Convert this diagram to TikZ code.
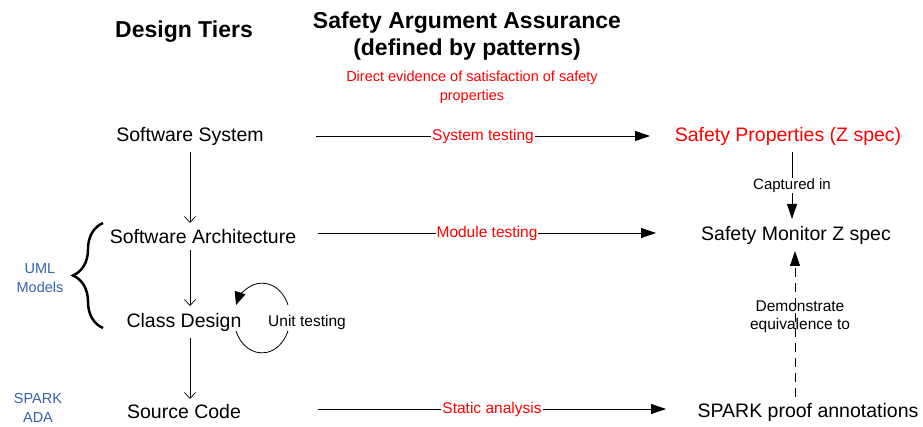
\documentclass[tikz,border=0pt]{standalone}
\usepackage{fontspec}
\setmainfont{Liberation Sans}
\usetikzlibrary{arrows.meta, decorations.pathreplacing}

\definecolor{umlblue}{RGB}{52,98,176}

\tikzset{
  tier/.style={font=\fontsize{19.5}{22}\selectfont},
  head/.style={font=\fontsize{23}{27}\selectfont\bfseries, align=center},
  side/.style={text=umlblue, font=\fontsize{14.5}{19}\selectfont, align=center},
  evid/.style={text=red, fill=white, inner sep=1pt, font=\fontsize{15.5}{18}\selectfont},
  note/.style={font=\fontsize{15}{18}\selectfont, align=center},
  down/.style={-{Straight Barb[length=6pt,width=11pt]}, line width=0.7pt},
  across/.style={-{Triangle[length=15pt,width=10pt]}, line width=0.8pt},
}

\begin{document}
\begin{tikzpicture}[x=1pt, y=1pt]
      \useasboundingbox (0,0) rectangle (923,-427);

      % column headings
      \node [head] (tiers) at (184, -32) {Design Tiers};
      \node [head] (assur) at (467, -36) {Safety Argument Assurance\\(defined by patterns)};
      \node [note, text=red, font=\fontsize{14.5}{19}\selectfont] (direct) at (472, -87)
            {Direct evidence of satisfaction of safety\\properties};

      % design tiers
      \node [tier] (sys)   at (190, -136) {Software System};
      \node [tier] (arch)  at (203, -237) {Software Architecture};
      \node [tier] (class) at (184, -322) {Class Design};
      \node [tier] (src)   at (184, -412) {Source Code};

      \node [side] (uml)   at (40, -278) {UML\\Models};
      \node [side] (spark) at (38, -408) {SPARK\\ADA};
      \draw [decorate, decoration={brace, amplitude=30pt}, line width=2.5pt]
            (103, -328) -- (103, -223);

      % assurance side
      \node [tier, text=red] (props) at (788, -136) {Safety Properties (Z spec)};
      \node [tier] (mon)  at (796, -235) {Safety Monitor Z spec};
      \node [tier] (ann)  at (808, -412) {SPARK proof annotations};

      \node [draw=none] (a) at (316, -136) {};
      \node [draw=none] (b) at (650, -136) {};
      \node [draw=none] (c) at (318, -233) {};
      \node [draw=none] (d) at (656, -233) {};
      \node [draw=none] (e) at (318, -409) {};
      \node [draw=none] (f) at (666, -409) {};

      \draw [across] (a.center) -- node [evid] {System testing} (b.center);
      \draw [across] (c.center) -- node [evid] {Module testing} (d.center);
      \draw [across] (e.center) -- node [evid] {Static analysis} (f.center);

      % refinement down the tiers
      \draw [down] (190, -152) -- (190, -223);
      \draw [down] (190, -250) -- (190, -306);
      \draw [down] (190, -338) -- (190, -399);

      % unit testing loop round the class design
      \draw [line width=0.8pt, -{Triangle[length=13pt,width=11pt]}]
            (288, -305) arc [start angle=22, end angle=158, x radius=28, y radius=35];
      \draw [line width=0.8pt]
            (236, -331) arc [start angle=202, end angle=338, x radius=28, y radius=35];
      \node [note, font=\fontsize{15.5}{18}\selectfont] (unit) at (307, -322) {Unit testing};

      % links between the specifications
      \draw [across] (792, -152) -- node [note, fill=white, inner sep=1pt] {Captured in} (792, -219);
      \draw [across, dash pattern=on 9pt off 6pt] (795, -397) -- (795, -251);
      \node [note, font=\fontsize{15.5}{18}\selectfont] (equiv) at (800, -317) {Demonstrate\\equivalence to};
\end{tikzpicture}
\end{document}
